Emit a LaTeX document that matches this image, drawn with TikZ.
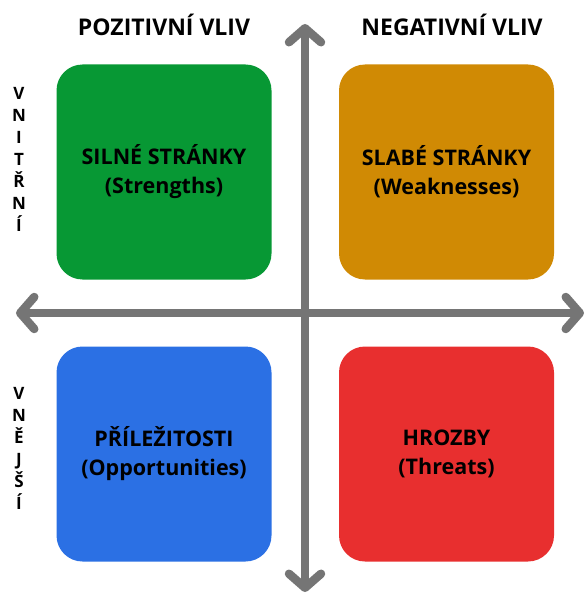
\documentclass[tikz,border=0pt]{standalone}
\usepackage{fontspec}
\setmainfont{Open Sans}
\usetikzlibrary{arrows.meta}
\definecolor{cgreen}{HTML}{079834}
\definecolor{corange}{HTML}{D08A04}
\definecolor{cblue}{HTML}{2B70E4}
\definecolor{cred}{HTML}{E82F2F}
\definecolor{caxis}{HTML}{757575}
\begin{document}
\begin{tikzpicture}[x=1pt,y=-1pt,
  quad/.style={rounded corners=26pt,minimum width=215pt,minimum height=215pt,inner sep=0pt,align=center,font=\fontsize{21.5}{29}\selectfont\bfseries},
  axis/.style={draw=caxis,line width=8.5pt,{Straight Barb[round,length=14pt,width=32pt]}-{Straight Barb[round,length=14pt,width=32pt]}},
  head/.style={font=\fontsize{23}{26}\selectfont\bfseries},
  side/.style={font=\fontsize{17}{22}\selectfont\bfseries,align=center,inner sep=0pt}]
\useasboundingbox (0,0) rectangle (584,596);
\node[quad,fill=cgreen] (s) at (164,172) {SILNÉ STRÁNKY\\(Strengths)};
\node[quad,fill=corange] (w) at (446.5,172) {SLABÉ STRÁNKY\\(Weaknesses)};
\node[quad,fill=cblue] (o) at (164,454) {PŘÍLEŽITOSTI\\(Opportunities)};
\node[quad,fill=cred] (t) at (446.5,454) {HROZBY\\(Threats)};
\coordinate (top) at (305,24);
\coordinate (bot) at (305,592);
\coordinate (lft) at (16,313);
\coordinate (rgt) at (584,313);
\draw[axis] (bot) -- (top);
\draw[axis] (lft) -- (rgt);
\node[head] (hp) at (164,25) {POZITIVNÍ VLIV};
\node[head] (hn) at (452,25) {NEGATIVNÍ VLIV};
\node[side] (vn) at (19,159) {V\\N\\I\\T\\Ř\\N\\Í};
\node[side] (ve) at (19,448) {V\\N\\Ě\\J\\Š\\Í};
\end{tikzpicture}
\end{document}
